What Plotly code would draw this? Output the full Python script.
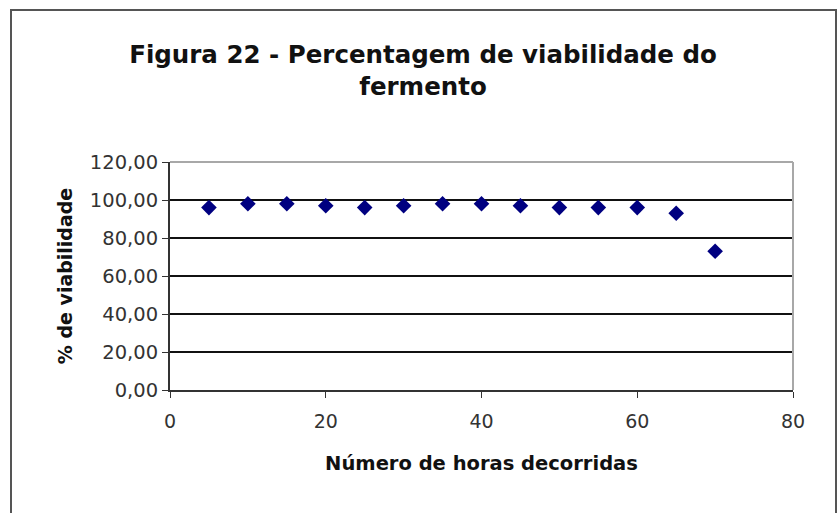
import plotly.graph_objects as go

# Hours elapsed and yeast viability (%)
horas = [5, 10, 15, 20, 25, 30, 35, 40, 45, 50, 55, 60, 65, 70]
viabilidade = [96, 98, 98, 97, 96, 97, 98, 98, 97, 96, 96, 96, 93, 73]

titulo = "Figura 22 - Percentagem de viabilidade do<br>fermento"
titulo_x = "Número de horas decorridas"
titulo_y = "% de viabilidade"

W, H = 838, 513
L, R, T, B = 170, 45, 162, 123
pw, ph = W - L - R, H - T - B


def px_x(p):
    return (p - L) / pw


def px_y(p):
    return (H - B - p) / ph


fig = go.Figure()
fig.add_trace(go.Scatter(
    x=horas, y=viabilidade, mode="markers",
    marker=dict(symbol="diamond", size=12, color="#000080"),
    cliponaxis=False, showlegend=False,
))

font = "DejaVu Sans, Verdana, sans-serif"

fig.update_layout(
    width=W, height=H,
    margin=dict(l=L, r=R, t=T, b=B),
    paper_bgcolor="white", plot_bgcolor="white",
    separators=",.",
    font=dict(family=font, color="#222222", size=16),
    title=dict(text="<b>" + titulo + "</b>", x=px_x(423), xref="paper",
               xanchor="center", y=1 - 63 / H, yanchor="middle",
               font=dict(size=24.5, color="#111111", family=font)),
    xaxis=dict(
        range=[0, 80], dtick=20, tick0=0, showgrid=False, zeroline=False,
        showline=True, linecolor="#333333", linewidth=2,
        ticks="outside", ticklen=6, tickcolor="#333333",
        ticklabelstandoff=7,
        tickfont=dict(size=19, color="#333333"),
        title=dict(text="<b>" + titulo_x + "</b>", standoff=26,
                   font=dict(size=19.5, color="#111111")),
    ),
    yaxis=dict(
        range=[0, 120], dtick=20, tick0=0, tickformat=".2f",
        showgrid=True, gridcolor="#111111", gridwidth=1.5, zeroline=False,
        showline=True, linecolor="#333333", linewidth=2,
        ticks="outside", ticklen=6, tickcolor="#333333",
        tickfont=dict(size=19.5, color="#333333"),
        title=dict(text="<b>" + titulo_y + "</b>", standoff=12,
                   font=dict(size=19, color="#111111")),
    ),
    shapes=[
        # gray top and right borders of the plot area
        dict(type="line", xref="paper", yref="paper", x0=0, x1=1, y0=1, y1=1,
             line=dict(color="#a8a8a8", width=2), layer="above"),
        dict(type="line", xref="paper", yref="paper", x0=1, x1=1, y0=0, y1=1,
             line=dict(color="#a8a8a8", width=2), layer="above"),
        # outer chart frame (open at the bottom)
        dict(type="path", xref="paper", yref="paper",
             path=f"M {px_x(11)} {px_y(515)} L {px_x(11)} {px_y(10)} "
                  f"L {px_x(836)} {px_y(10)} L {px_x(836)} {px_y(515)}",
             line=dict(color="#555555", width=2)),
    ],
)

fig.write_html("out.html")
